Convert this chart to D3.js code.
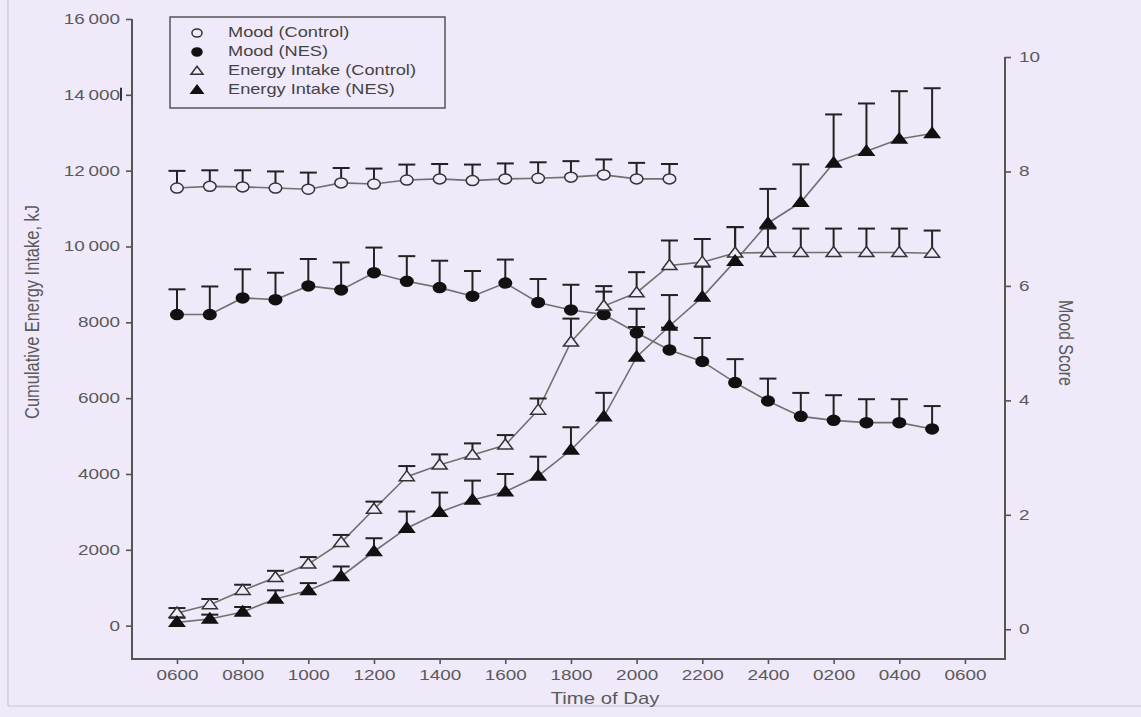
<!DOCTYPE html>
<html>
<head>
<meta charset="utf-8">
<script src="https://cdn.jsdelivr.net/npm/d3@7"></script>
<style>
  html, body { margin: 0; padding: 0; background: #EFE9F9; }
  svg { display: block; font-family: "Liberation Sans", Arial, sans-serif; }
</style>
</head>
<body>
<div id="chart"></div>
<script>
// Hours of day (6 = 0600 ... 29 = 0500 next day)
const hours = d3.range(6, 30);
const moodControlHours = d3.range(6, 22);

const moodControl = [7.71, 7.74, 7.73, 7.71, 7.69, 7.80, 7.78, 7.85, 7.87, 7.84, 7.87, 7.88, 7.90, 7.94, 7.87, 7.87];
const moodControlErr = [0.30, 0.28, 0.29, 0.29, 0.29, 0.26, 0.27, 0.27, 0.26, 0.28, 0.27, 0.28, 0.28, 0.27, 0.28, 0.26];

const moodNES = [5.50, 5.50, 5.79, 5.76, 6.00, 5.93, 6.23, 6.08, 5.97, 5.82, 6.05, 5.71,
                 5.58, 5.50, 5.18, 4.88, 4.68, 4.31, 3.99, 3.72, 3.65, 3.61, 3.61, 3.50];
const moodNESErr = [0.44, 0.49, 0.50, 0.47, 0.47, 0.48, 0.44, 0.44, 0.47, 0.44, 0.41, 0.41,
                    0.44, 0.40, 0.42, 0.39, 0.41, 0.41, 0.39, 0.41, 0.44, 0.41, 0.41, 0.40];

const energyControl = [334, 553, 929, 1271, 1624, 2192, 3071, 3929, 4237, 4500, 4763, 5684,
                       7482, 8429, 8781, 9500, 9587, 9830, 9840, 9840, 9840, 9840, 9840, 9820];
const energyControlErr = [130, 150, 150, 175, 185, 200, 200, 280, 280, 307, 263, 307,
                          616, 526, 542, 658, 611, 684, 632, 632, 632, 632, 632, 600];

const energyNES = [87, 176, 361, 703, 929, 1297, 1955, 2571, 2992, 3316, 3534, 3947,
                   4632, 5508, 7087, 7903, 8666, 9613, 10614, 11166, 12202, 12509, 12833, 12982];
const energyNESErr = [120, 114, 130, 228, 193, 263, 350, 439, 518, 509, 465, 509,
                      600, 632, 789, 816, 800, 895, 905, 1000, 1281, 1263, 1263, 1192];

// Axis ticks
const xTickHours = [6, 8, 10, 12, 14, 16, 18, 20, 22, 24, 26, 28, 30];
const xTickLabels = ["0600", "0800", "1000", "1200", "1400", "1600", "1800", "2000", "2200", "2400", "0200", "0400", "0600"];
const leftTicks = [0, 2000, 4000, 6000, 8000, 10000, 12000, 14000, 16000];
const leftTickLabels = ["0", "2000", "4000", "6000", "8000", "10\u2009000", "12\u2009000", "14\u2009000", "16\u2009000"];
const rightTicks = [0, 2, 4, 6, 8, 10];

const legendItems = [
  { label: "Mood (Control)", shape: "circle", filled: false },
  { label: "Mood (NES)", shape: "circle", filled: true },
  { label: "Energy Intake (Control)", shape: "triangle", filled: false },
  { label: "Energy Intake (NES)", shape: "triangle", filled: true }
];

const width = 1141, height = 717;
const bg = "#EFE9F9";
const axisColor = "#555";
const textColor = "#5a5a5a";
const lineColor = "#707070";
const markColor = "#222";
const stretch = 1.35; // the source image is stretched horizontally

const plotLeft = 132, plotRight = 1005, plotBottom = 659;

const svg = d3.select("#chart").append("svg")
  .attr("width", width)
  .attr("height", height);

svg.append("rect").attr("width", width).attr("height", height).attr("fill", bg);

// faint page frame
svg.append("line").attr("x1", 8).attr("x2", 8).attr("y1", 0).attr("y2", 706)
  .attr("stroke", "#c9c4d2").attr("stroke-width", 1.2);
svg.append("line").attr("x1", 8).attr("x2", width).attr("y1", 706).attr("y2", 706)
  .attr("stroke", "#c9c4d2").attr("stroke-width", 1.2);

// Scales
const x = d3.scaleLinear().domain([4.63, 31.22]).range([plotLeft, plotRight]);
const yL = d3.scaleLinear().domain([-880, 16000]).range([plotBottom, 19]);
const yR = d3.scaleLinear().domain([-0.52, 10]).range([plotBottom, 57]);

// Axes
const xAxis = svg.append("g")
  .attr("transform", `translate(0,${plotBottom})`)
  .call(d3.axisBottom(x).tickValues(xTickHours)
    .tickFormat((d, i) => xTickLabels[i]).tickSize(5).tickSizeOuter(0).tickPadding(6));

const leftAxis = svg.append("g")
  .attr("transform", `translate(${plotLeft},0)`)
  .call(d3.axisLeft(yL).tickValues(leftTicks)
    .tickFormat((d, i) => leftTickLabels[i]).tickSize(6).tickSizeOuter(0).tickPadding(6));

const rightAxis = svg.append("g")
  .attr("transform", `translate(${plotRight},0)`)
  .call(d3.axisRight(yR).tickValues(rightTicks).tickSize(6).tickSizeOuter(0).tickPadding(8));

[xAxis, leftAxis, rightAxis].forEach(g => {
  g.select(".domain").remove();
  g.selectAll(".tick line").attr("stroke", axisColor).attr("stroke-width", 1.6);
  g.selectAll(".tick text")
    .attr("fill", textColor).attr("font-size", 14)
    .attr("font-family", "'Liberation Sans', Arial, sans-serif")
    .each(function () {
      const t = d3.select(this);
      const tx = +t.attr("x") || 0;
      t.attr("x", 0).attr("transform", `translate(${tx},0) scale(${stretch},1)`);
    });
});

// Axis lines drawn as an open frame
svg.append("path")
  .attr("d", `M${plotLeft},${yL(16000)}V${plotBottom}H${plotRight}V${yR(10)}`)
  .attr("fill", "none").attr("stroke", axisColor).attr("stroke-width", 2);

// stray mark next to the 14000 label in the source
svg.append("line")
  .attr("x1", 121).attr("x2", 121).attr("y1", yL(14000) - 7).attr("y2", yL(14000) + 6)
  .attr("stroke", "#333").attr("stroke-width", 2);

// Axis titles
svg.append("text")
  .attr("transform", `translate(39,312) rotate(-90) scale(1,${stretch})`)
  .attr("text-anchor", "middle")
  .attr("fill", textColor)
  .attr("font-size", 15)
  .attr("textLength", 214)
  .attr("lengthAdjust", "spacingAndGlyphs")
  .text("Cumulative Energy Intake, kJ");

svg.append("text")
  .attr("transform", `translate(1059,343) rotate(90) scale(1,${stretch})`)
  .attr("text-anchor", "middle")
  .attr("fill", textColor)
  .attr("font-size", 15)
  .attr("textLength", 86)
  .attr("lengthAdjust", "spacingAndGlyphs")
  .text("Mood Score");

svg.append("text")
  .attr("transform", `translate(605,704) scale(1.27,1)`)
  .attr("text-anchor", "middle")
  .attr("fill", textColor)
  .attr("font-size", 16)
  .text("Time of Day");

// Series
const series = [
  { hrs: moodControlHours, vals: moodControl, errs: moodControlErr, y: yR, shape: "circle", filled: false },
  { hrs: hours, vals: moodNES, errs: moodNESErr, y: yR, shape: "circle", filled: true },
  { hrs: hours, vals: energyControl, errs: energyControlErr, y: yL, shape: "triangle", filled: false },
  { hrs: hours, vals: energyNES, errs: energyNESErr, y: yL, shape: "triangle", filled: true }
];

// connecting lines
series.forEach(s => {
  const pts = s.hrs.map((h, i) => [x(h), s.y(s.vals[i])]);
  svg.append("path")
    .attr("d", d3.line()(pts))
    .attr("fill", "none")
    .attr("stroke", lineColor)
    .attr("stroke-width", 1.6);
});

// error bars (upper only)
series.forEach(s => {
  s.hrs.forEach((h, i) => {
    const cx = x(h);
    const y0 = s.y(s.vals[i]);
    const y1 = s.y(s.vals[i] + s.errs[i]);
    svg.append("line")
      .attr("x1", cx).attr("x2", cx).attr("y1", y0).attr("y2", y1)
      .attr("stroke", markColor).attr("stroke-width", 2);
    svg.append("line")
      .attr("x1", cx - 8.5).attr("x2", cx + 8.5).attr("y1", y1).attr("y2", y1)
      .attr("stroke", markColor).attr("stroke-width", 2);
  });
});

function drawMarker(g, shape, filled, cx, cy, k) {
  const fill = filled ? "#111" : bg;
  const stroke = filled ? "#111" : "#333";
  if (shape === "circle") {
    g.append("ellipse")
      .attr("cx", cx).attr("cy", cy).attr("rx", 6.3 * k).attr("ry", 5 * k)
      .attr("fill", fill).attr("stroke", stroke).attr("stroke-width", 1.5);
  } else {
    const w = 7.5 * k, h = 10 * k;
    g.append("path")
      .attr("d", `M${cx},${cy - h * 0.6}L${cx + w},${cy + h * 0.4}L${cx - w},${cy + h * 0.4}Z`)
      .attr("fill", fill).attr("stroke", stroke).attr("stroke-width", 1.5)
      .attr("stroke-linejoin", "miter");
  }
}

// markers
series.forEach(s => {
  s.hrs.forEach((h, i) => {
    drawMarker(svg, s.shape, s.filled, x(h), s.y(s.vals[i]), 1);
  });
});

// Legend
const legend = svg.append("g");
legend.append("rect")
  .attr("x", 170).attr("y", 17).attr("width", 275).attr("height", 91)
  .attr("fill", "none").attr("stroke", "#555").attr("stroke-width", 1.5);

legendItems.forEach((d, i) => {
  const ly = 33 + i * 19;
  drawMarker(legend, d.shape, d.filled, 197, ly, 0.8);
  legend.append("text")
    .attr("transform", `translate(228,${ly}) scale(1.3,1)`)
    .attr("dominant-baseline", "middle")
    .attr("fill", "#444")
    .attr("font-size", 14)
    .text(d.label);
});
</script>
</body>
</html>
